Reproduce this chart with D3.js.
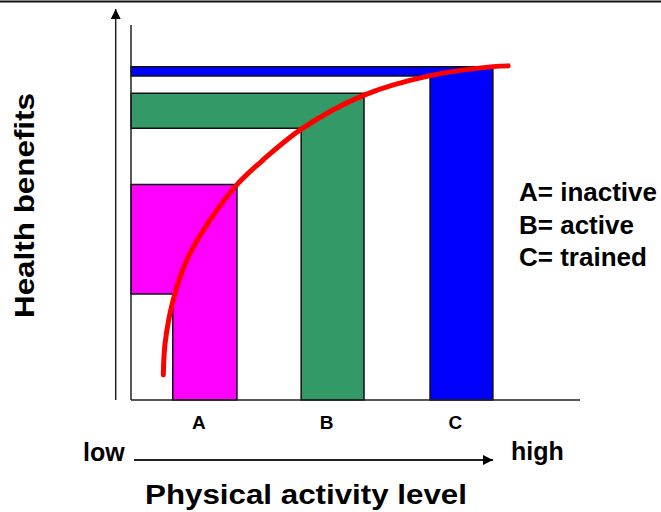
<!DOCTYPE html>
<html>
<head>
<meta charset="utf-8">
<script src="https://d3js.org/d3.v7.min.js"></script>
<style>
  html, body { margin: 0; padding: 0; background: #fff; }
  svg { display: block; }
  text { font-family: "Liberation Sans", Arial, Helvetica, sans-serif; font-weight: bold; fill: #000; }
</style>
</head>
<body>
<div id="chart"></div>
<script>
// groups: activity range of the bar (x0 -> x1) and benefit range (low -> high)
var groups = ["A", "B", "C"];
var barX0 = [9.3, 37.9, 66.6];
var barX1 = [23.6, 51.9, 80.6];
var benefitLow = [28.3, 72.5, 86.4];
var benefitHigh = [57.5, 81.8, 88.9];
var barColors = ["#ff00ff", "#339966", "#0000ff"];

// dose-response curve
var curveX = [7.2, 7.6, 9.4, 12.4, 17.6, 23.5, 29.4, 38, 51.9, 66.6, 80.6, 84];
var curveY = [6.7, 15.2, 26.7, 37.3, 48, 57.3, 64, 72.3, 81.3, 86.5, 88.9, 89.1];

var legendLines = ["A= inactive", "B= active", "C= trained"];

var W = 661, H = 512;
var svg = d3.select("#chart").append("svg").attr("width", W).attr("height", H);

var x = d3.scaleLinear().domain([0, 100]).range([131, 580]);
var y = d3.scaleLinear().domain([0, 100]).range([400, 25]);

// top rule
svg.append("line").attr("x1", 0).attr("x2", W).attr("y1", 1.5).attr("y2", 1.5)
   .attr("stroke", "#111").attr("stroke-width", 2);

svg.append("defs").append("marker")
   .attr("id", "head").attr("viewBox", "0 0 10 10").attr("refX", 10).attr("refY", 5)
   .attr("markerWidth", 10).attr("markerHeight", 10).attr("markerUnits", "userSpaceOnUse")
   .attr("orient", "auto")
   .append("path").attr("d", "M0,0L10,5L0,10Z").attr("fill", "#000");

// L-shaped bars
var lshape = d3.line();
groups.forEach(function(g, i){
  var pts = [
    [x(0), y(benefitHigh[i])],
    [x(barX1[i]), y(benefitHigh[i])],
    [x(barX1[i]), y(0)],
    [x(barX0[i]), y(0)],
    [x(barX0[i]), y(benefitLow[i])],
    [x(0), y(benefitLow[i])]
  ];
  svg.append("path").attr("d", lshape(pts) + "Z")
     .attr("fill", barColors[i]).attr("stroke", "#111").attr("stroke-width", 1.5);
});

// inner axes
svg.append("line").attr("x1", x(0)).attr("x2", x(0)).attr("y1", y(100)).attr("y2", y(0))
   .attr("stroke", "#222").attr("stroke-width", 1.5);
svg.append("line").attr("x1", x(0)).attr("x2", x(100)).attr("y1", y(0)).attr("y2", y(0))
   .attr("stroke", "#222").attr("stroke-width", 1.5);

// outer y arrow
svg.append("line").attr("x1", 115.7).attr("x2", 115.7).attr("y1", 400).attr("y2", 9)
   .attr("stroke", "#222").attr("stroke-width", 1.5).attr("marker-end", "url(#head)");

// red curve
var line = d3.line().x(function(d){ return x(d[0]); }).y(function(d){ return y(d[1]); })
   .curve(d3.curveCatmullRom.alpha(0.5));
svg.append("path").datum(d3.zip(curveX, curveY)).attr("d", line)
   .attr("fill", "none").attr("stroke", "#ff0000").attr("stroke-width", 5)
   .attr("stroke-linecap", "round");

// group labels
svg.selectAll(".glab").data(groups).enter().append("text").attr("class", "glab")
   .attr("x", function(d, i){ return (x(barX0[i]) + x(barX1[i])) / 2 - 6; })
   .attr("y", 429).attr("text-anchor", "middle").attr("font-size", 19)
   .text(function(d){ return d; });

// low -> high arrow
svg.append("line").attr("x1", 134).attr("x2", 493).attr("y1", 460).attr("y2", 460)
   .attr("stroke", "#222").attr("stroke-width", 2).attr("marker-end", "url(#head)");
svg.append("text").attr("x", 83).attr("y", 461).attr("font-size", 25).text("low");
svg.append("text").attr("x", 511).attr("y", 460).attr("font-size", 25).text("high");

// legend
svg.selectAll(".leg").data(legendLines).enter().append("text").attr("class", "leg")
   .attr("x", 519).attr("y", function(d, i){ return 201 + i * 32.5; })
   .attr("font-size", 26).text(function(d){ return d; });

// axis titles
svg.append("text").attr("x", 306).attr("y", 503.5).attr("text-anchor", "middle")
   .attr("font-size", 27).attr("textLength", 322).attr("lengthAdjust", "spacingAndGlyphs")
   .text("Physical activity level");
svg.append("text").attr("transform", "translate(33.5,205.5) rotate(-90)")
   .attr("text-anchor", "middle").attr("font-size", 27)
   .attr("textLength", 225).attr("lengthAdjust", "spacingAndGlyphs")
   .text("Health benefits");
</script>
</body>
</html>
